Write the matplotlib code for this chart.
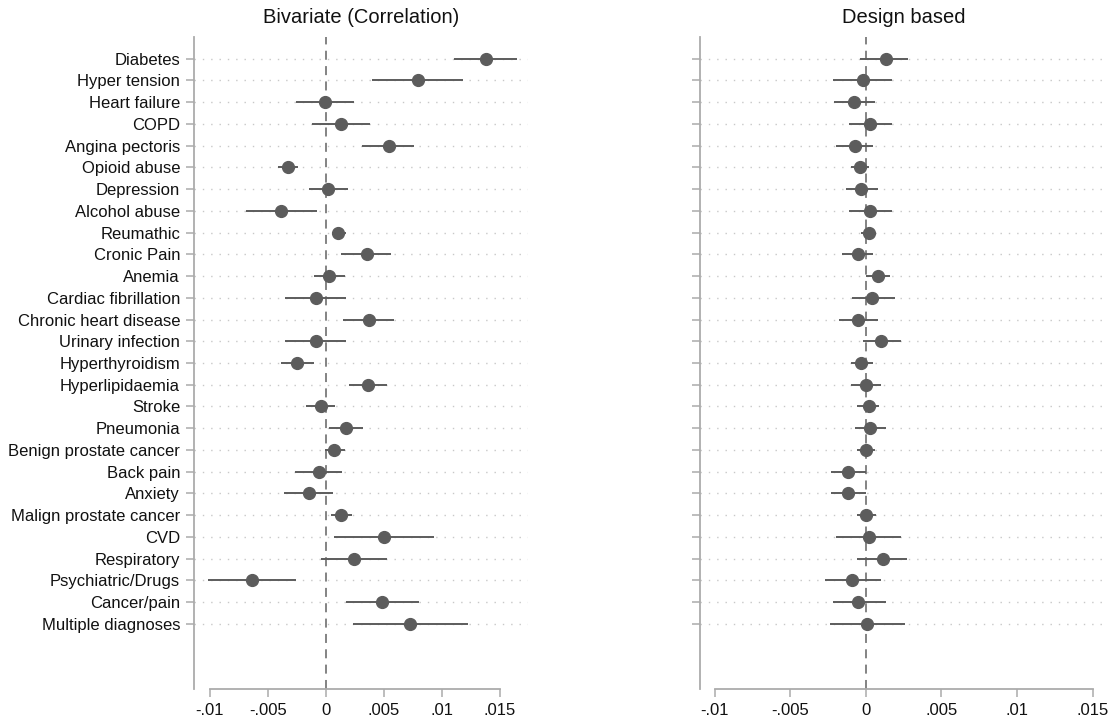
import matplotlib
matplotlib.use("Agg")
from matplotlib import pyplot as plt

plt.rcParams['font.family'] = ['Liberation Sans', 'DejaVu Sans']

labels = ["Diabetes", "Hyper tension", "Heart failure", "COPD", "Angina pectoris",
          "Opioid abuse", "Depression", "Alcohol abuse", "Reumathic", "Cronic Pain",
          "Anemia", "Cardiac fibrillation", "Chronic heart disease", "Urinary infection",
          "Hyperthyroidism", "Hyperlipidaemia", "Stroke", "Pneumonia",
          "Benign prostate cancer", "Back pain", "Anxiety", "Malign prostate cancer",
          "CVD", "Respiratory", "Psychiatric/Drugs", "Cancer/pain", "Multiple diagnoses"]

# bivariate (correlation) estimates and confidence limits
biv_est = [0.0138, 0.0079, -0.0001, 0.0013, 0.0054, -0.0033, 0.0002, -0.0039, 0.0010,
           0.0035, 0.0003, -0.0009, 0.0037, -0.0009, -0.0025, 0.0036, -0.0004, 0.0017,
           0.0007, -0.0006, -0.0015, 0.0013, 0.0050, 0.0024, -0.0064, 0.0048, 0.0072]
biv_lo = [0.0110, 0.0040, -0.0026, -0.0012, 0.0031, -0.0041, -0.0015, -0.0069, 0.0006,
          0.0013, -0.0010, -0.0035, 0.0015, -0.0035, -0.0039, 0.0020, -0.0017, 0.0003,
          -0.0001, -0.0027, -0.0036, 0.0004, 0.0007, -0.0004, -0.0102, 0.0017, 0.0023]
biv_hi = [0.0165, 0.0118, 0.0024, 0.0038, 0.0076, -0.0024, 0.0019, -0.0008, 0.0017,
          0.0056, 0.0016, 0.0017, 0.0059, 0.0017, -0.0010, 0.0053, 0.0008, 0.0032,
          0.0016, 0.0014, 0.0006, 0.0022, 0.0093, 0.0053, -0.0026, 0.0080, 0.0122]

# design based estimates and confidence limits
des_est = [0.0013, -0.0002, -0.0008, 0.0003, -0.0007, -0.0004, -0.0003, 0.0003, 0.0002,
           -0.0005, 0.0008, 0.0004, -0.0005, 0.0010, -0.0003, 0.0000, 0.0002, 0.0003,
           0.0000, -0.0012, -0.0012, 0.0000, 0.0002, 0.0011, -0.0009, -0.0005, 0.0001]
des_lo = [-0.0004, -0.0022, -0.0021, -0.0011, -0.0020, -0.0010, -0.0013, -0.0011, -0.0003,
          -0.0016, 0.0000, -0.0009, -0.0018, -0.0002, -0.0010, -0.0010, -0.0006, -0.0007,
          -0.0006, -0.0023, -0.0023, -0.0006, -0.0020, -0.0006, -0.0027, -0.0022, -0.0024]
des_hi = [0.0028, 0.0017, 0.0006, 0.0017, 0.0005, 0.0002, 0.0008, 0.0017, 0.0006,
          0.0005, 0.0016, 0.0019, 0.0008, 0.0023, 0.0005, 0.0010, 0.0009, 0.0013,
          0.0006, 0.0000, 0.0000, 0.0007, 0.0023, 0.0027, 0.0010, 0.0013, 0.0026]

x_ticks = [-0.01, -0.005, 0, 0.005, 0.01, 0.015]
x_tick_labels = ["-.01", "-.005", "0", ".005", ".01", ".015"]

SPINE = '#ababab'
MARK = '#5c5c5c'


def plot_panel(ax, est, lo, hi, title, xlim, show_labels):
    ys = list(range(len(labels)))
    ax.hlines(ys, lo, hi, color=MARK, lw=1.4, zorder=3)
    ax.plot(est, ys, 'o', color=MARK, ms=8.5, zorder=4)
    ax.axvline(0, color='#7a7a7a', lw=1.3, ls=(0, (5, 3.5)), zorder=2)

    ax.set_yticks(ys)
    ax.set_yticklabels(labels if show_labels else [])
    ax.grid(axis='y', color='#c8c8c8', lw=1, ls=(0, (1, 5)))
    ax.set_ylim(29, -1)
    ax.set_xlim(*xlim)
    ax.set_xticks(x_ticks)
    ax.set_xticklabels(x_tick_labels)

    ax.set_title(title, fontsize=14.5, pad=10, color='#111111')
    for side in ['top', 'right']:
        ax.spines[side].set_visible(False)
    for side in ['left', 'bottom']:
        ax.spines[side].set_color(SPINE)
        ax.spines[side].set_linewidth(1.3)
    ax.spines['bottom'].set_bounds(-0.01, 0.015)
    ax.tick_params(axis='both', colors=SPINE, width=1.1, length=6, labelsize=12,
                   labelcolor='#111111', pad=4)


if __name__ == '__main__':
    fig = plt.figure(figsize=(11.11, 7.21), dpi=100)
    ax1 = fig.add_axes([0.1746, 0.0444, 0.3006, 0.9043])
    ax2 = fig.add_axes([0.630, 0.0444, 0.3672, 0.9043])

    plot_panel(ax1, biv_est, biv_lo, biv_hi, 'Bivariate (Correlation)', (-0.01138, 0.01741), True)
    plot_panel(ax2, des_est, des_lo, des_hi, 'Design based', (-0.01097, 0.0160), False)

    fig.savefig('out.png', dpi=100)
    plt.close()
